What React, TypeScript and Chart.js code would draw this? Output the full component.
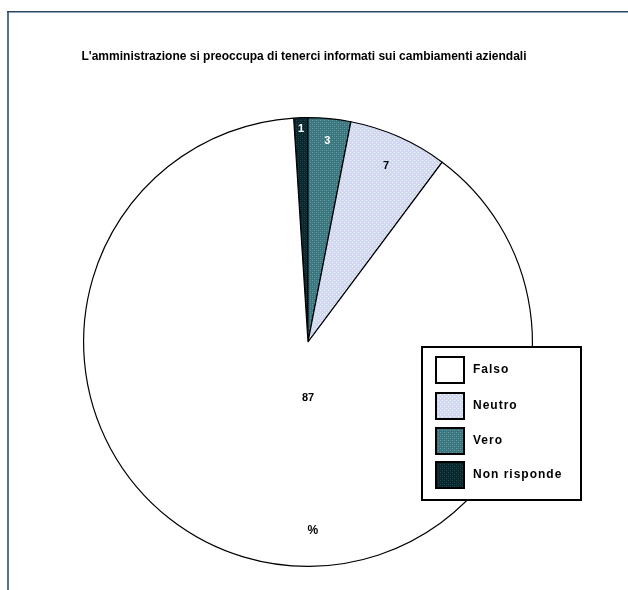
import React, { useEffect, useRef } from "react";
import { Chart, registerables } from "chart.js";
Chart.register(...registerables);

const titleText = "L'amministrazione si preoccupa di tenerci informati sui cambiamenti aziendali";
// legend order
const legendLabels = ["Falso", "Neutro", "Vero", "Non risponde"];
// slices in clockwise drawing order from the top
const sliceLabels = ["Non risponde", "Vero", "Neutro", "Falso"];
const sliceValues = [1, 3, 7, 87];
const unitLabel = "%";

type PatSpec = { base: string; dot: string; dot2: string };
const patternSpecs: Record<string, PatSpec | null> = {
  Falso: null,
  Neutro: { base: "#d6d6f2", dot: "#b4e6ea", dot2: "#f4f8fc" },
  Vero: { base: "#3a747c", dot: "#6c9ea6", dot2: "#4d8890" },
  "Non risponde": { base: "#08262c", dot: "#1f4c54", dot2: "#123840" },
};

function makeFill(label: string): string | CanvasPattern {
  const spec = patternSpecs[label];
  if (!spec) return "#ffffff";
  const c = document.createElement("canvas");
  c.width = 4;
  c.height = 4;
  const g = c.getContext("2d")!;
  g.fillStyle = spec.base;
  g.fillRect(0, 0, 4, 4);
  g.fillStyle = spec.dot;
  g.fillRect(0, 0, 1, 1);
  g.fillRect(2, 2, 1, 1);
  g.fillStyle = spec.dot2;
  g.fillRect(2, 0, 1, 1);
  g.fillRect(0, 2, 1, 1);
  return g.createPattern(c, "repeat")!;
}

// label placement per slice: radial fraction, optional angle override (deg clockwise from top), color
const labelStyle: Record<string, { frac: number; angle?: number; color: string }> = {
  "Non risponde": { frac: 0.95, color: "#ffffff" },
  Vero: { frac: 0.9, color: "#ffffff" },
  Neutro: { frac: 0.86, color: "#000000" },
  Falso: { frac: 0.25, angle: 180, color: "#000000" },
};

export default function App() {
  const ref = useRef<HTMLCanvasElement>(null);
  useEffect(() => {
    const canvas = ref.current!;
    const fills = sliceLabels.map(makeFill);
    const fillFor: Record<string, string | CanvasPattern> = {};
    sliceLabels.forEach((l, i) => (fillFor[l] = fills[i]));
    const total = sliceValues.reduce((a, b) => a + b, 0);

    const decor = {
      id: "decor",
      beforeDraw(chart: any) {
        const ctx = chart.ctx as CanvasRenderingContext2D;
        ctx.save();
        ctx.fillStyle = "#ffffff";
        ctx.fillRect(0, 0, chart.width, chart.height);
        ctx.fillStyle = "#55708e";
        ctx.fillRect(7, 11, 2, chart.height - 11);
        ctx.fillStyle = "#2a4666";
        ctx.fillRect(7, 11, chart.width - 7, 1.5);
        ctx.restore();
      },
      afterDraw(chart: any) {
        const ctx = chart.ctx as CanvasRenderingContext2D;
        ctx.save();
        // title
        ctx.fillStyle = "#000";
        ctx.font = "bold 12px 'Liberation Sans', Arial, sans-serif";
        ctx.textAlign = "center";
        ctx.textBaseline = "middle";
        ctx.fillText(titleText, 304, 57, 448);

        // slice labels
        const meta = chart.getDatasetMeta(0);
        meta.data.forEach((arc: any, i: number) => {
          const lbl = sliceLabels[i];
          const st = labelStyle[lbl];
          const p = arc.getProps(["x", "y", "startAngle", "endAngle", "outerRadius"], true);
          const mid =
            st.angle !== undefined ? ((st.angle - 90) * Math.PI) / 180 : (p.startAngle + p.endAngle) / 2;
          const d = p.outerRadius * st.frac;
          ctx.fillStyle = st.color;
          ctx.font = "bold 11px 'Liberation Sans', Arial, sans-serif";
          ctx.fillText(String(sliceValues[i]), p.x + Math.cos(mid) * d, p.y + Math.sin(mid) * d);
          if (lbl === "Falso") {
            const a2 = ((178.5 - 90) * Math.PI) / 180;
            const d2 = p.outerRadius * 0.84;
            ctx.font = "bold 12px 'Liberation Sans', Arial, sans-serif";
            ctx.fillText(unitLabel, p.x + Math.cos(a2) * d2, p.y + Math.sin(a2) * d2);
          }
        });

        // legend box
        const bx = 422, by = 347, bw = 159, bh = 153;
        ctx.fillStyle = "#ffffff";
        ctx.fillRect(bx, by, bw, bh);
        ctx.strokeStyle = "#000";
        ctx.lineWidth = 2;
        ctx.strokeRect(bx, by, bw, bh);
        const rowTops = [357, 393, 428, 462];
        legendLabels.forEach((l, i) => {
          const sy = rowTops[i];
          ctx.fillStyle = fillFor[l] as any;
          ctx.fillRect(436, sy, 28, 26);
          ctx.lineWidth = 2;
          ctx.strokeStyle = "#000";
          ctx.strokeRect(436, sy, 28, 26);
          ctx.fillStyle = "#000";
          ctx.textAlign = "left";
          ctx.font = "bold 12px 'Liberation Sans', Arial, sans-serif";
          (ctx as any).letterSpacing = "1px";
          ctx.fillText(l, 473, sy + 13);
          (ctx as any).letterSpacing = "0px";
        });
        ctx.restore();
      },
    };

    const chart = new Chart(canvas, {
      type: "pie",
      data: {
        labels: sliceLabels,
        datasets: [
          {
            data: sliceValues,
            backgroundColor: fills as any,
            borderColor: "#000000",
            borderWidth: 1.2,
          },
        ],
      },
      options: {
        animation: false,
        responsive: false,
        rotation: (-sliceValues[0] / total) * 360,
        layout: { padding: { left: 83, right: 95, top: 117, bottom: 23 } },
        plugins: {
          legend: { display: false },
          title: { display: false },
          tooltip: { enabled: false },
        },
      },
      plugins: [decor],
    });
    return () => chart.destroy();
  }, []);

  return (
    <div style={{ position: "absolute", left: 0, top: 0, width: 628, height: 590 }}>
      <canvas ref={ref} width={628} height={590} style={{ display: "block" }} />
    </div>
  );
}
